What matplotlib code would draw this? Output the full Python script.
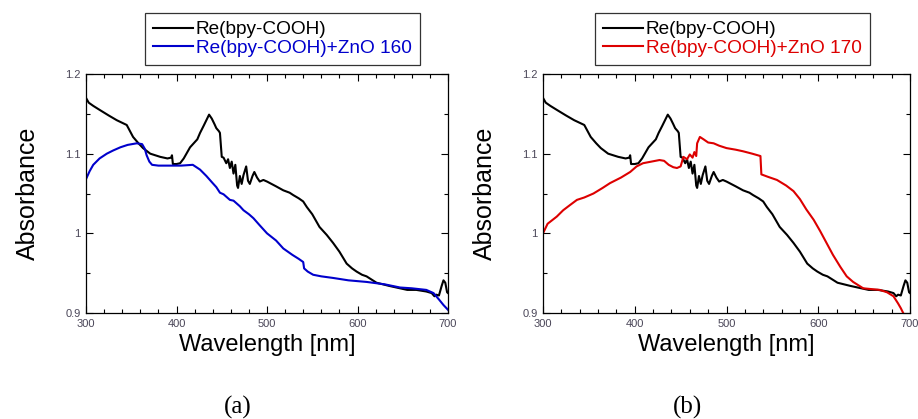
import matplotlib
matplotlib.use('Agg')
import matplotlib.pyplot as plt
from matplotlib.ticker import MultipleLocator, FixedLocator, FixedFormatter

plt.rcParams['font.family'] = ['Liberation Sans', 'DejaVu Sans']

# Re(bpy-COOH) reference spectrum (same in both panels)
wl_re = [300, 303, 308, 315, 325, 334, 345, 352, 358, 363, 371, 382, 390, 394, 395, 396, 400, 404,
         408, 411, 415, 419, 423, 426, 430, 433, 436, 439, 442, 444, 447, 448, 450, 452, 455, 457,
         459, 461, 463, 465, 467, 468, 470, 472, 474, 477, 479, 481, 484, 486, 489, 492, 496, 500,
         510, 518, 525, 529, 535, 540, 544, 550, 558, 566, 573, 580, 588, 594, 599, 605, 610, 621,
         635, 647, 655, 665, 676, 682, 685, 687, 690, 693, 695, 697, 699, 700]
abs_re = [1.170, 1.164, 1.160, 1.155, 1.148, 1.142, 1.136, 1.121, 1.113, 1.107, 1.100, 1.096, 1.094,
          1.095, 1.098, 1.087, 1.087, 1.088, 1.094, 1.100, 1.108, 1.113, 1.118, 1.126, 1.135, 1.142,
          1.149, 1.144, 1.137, 1.132, 1.128, 1.126, 1.096, 1.095, 1.088, 1.093, 1.082, 1.090, 1.075,
          1.086, 1.060, 1.057, 1.072, 1.062, 1.073, 1.084, 1.066, 1.062, 1.072, 1.077, 1.070, 1.065,
          1.067, 1.065, 1.059, 1.054, 1.051, 1.048, 1.044, 1.040, 1.033, 1.024, 1.008, 0.998, 0.988,
          0.977, 0.962, 0.956, 0.952, 0.948, 0.946, 0.938, 0.934, 0.931, 0.929, 0.929, 0.927, 0.925,
          0.921, 0.923, 0.922, 0.934, 0.941, 0.938, 0.926, 0.925]

# Re(bpy-COOH)+ZnO 160
wl_160 = [300, 304, 308, 315, 323, 330, 338, 346, 356, 362, 365, 367, 370, 373, 380, 392, 405, 418,
          422, 426, 433, 440, 444, 448, 452, 456, 459, 463, 466, 470, 474, 480, 485, 492, 500, 510,
          518, 528, 535, 540, 541, 545, 551, 560, 573, 590, 610, 630, 647, 660, 676, 684, 690, 695, 700]
abs_160 = [1.068, 1.078, 1.086, 1.094, 1.100, 1.104, 1.108, 1.111, 1.113, 1.112, 1.106, 1.098, 1.090,
           1.086, 1.085, 1.085, 1.085, 1.086, 1.083, 1.080, 1.072, 1.063, 1.058, 1.051, 1.049, 1.045,
           1.042, 1.041, 1.038, 1.034, 1.029, 1.024, 1.019, 1.010, 1.000, 0.991, 0.981, 0.973, 0.968,
           0.964, 0.956, 0.952, 0.948, 0.946, 0.944, 0.941, 0.939, 0.936, 0.932, 0.931, 0.929, 0.925,
           0.917, 0.910, 0.904]

# Re(bpy-COOH)+ZnO 170
wl_170 = [300, 305, 315, 322, 330, 337, 345, 355, 365, 373, 385, 395, 402, 409, 418, 427, 432, 437,
          442, 446, 450, 453, 457, 460, 463, 465, 467, 468, 471, 475, 480, 486, 492, 500, 510, 518,
          528, 537, 538, 545, 555, 565, 573, 580, 587, 595, 602, 609, 616, 624, 631, 638, 649, 658,
          667, 675, 682, 687, 690, 693]
abs_170 = [1.000, 1.012, 1.021, 1.029, 1.036, 1.042, 1.045, 1.050, 1.057, 1.063, 1.070, 1.077, 1.084,
           1.088, 1.090, 1.092, 1.091, 1.086, 1.083, 1.082, 1.084, 1.096, 1.093, 1.099, 1.095, 1.102,
           1.097, 1.113, 1.121, 1.118, 1.114, 1.113, 1.110, 1.107, 1.105, 1.103, 1.100, 1.097, 1.074,
           1.071, 1.067, 1.060, 1.053, 1.043, 1.030, 1.017, 1.003, 0.988, 0.973, 0.958, 0.946, 0.939,
           0.931, 0.930, 0.929, 0.926, 0.921, 0.912, 0.906, 0.899]

yticks = [0.9, 1.0, 1.1, 1.2]
ytick_labels = ['0.9', '1', '1.1', '1.2']
xticks = [300, 400, 500, 600, 700]

fig = plt.figure(figsize=(9.18, 4.19), dpi=100)
W, H = 918, 419

panels = [
    (86, 448, wl_160, abs_160, '#0000cc', 'Re(bpy-COOH)+ZnO 160', 145, '(a)', 238),
    (543, 910, wl_170, abs_170, '#dd0000', 'Re(bpy-COOH)+ZnO 170', 595, '(b)', 688),
]

for left, right, wl, ab, col, lab, legx, cap, capx in panels:
    ax = fig.add_axes([left / W, 1 - 313 / H, (right - left) / W, (313 - 74) / H])
    ax.plot(wl_re, abs_re, color='black', lw=1.5, label='Re(bpy-COOH)')
    ax.plot(wl, ab, color=col, lw=1.5, label=lab)
    ax.set_xlim(300, 700)
    ax.set_ylim(0.9, 1.2)
    ax.xaxis.set_major_locator(FixedLocator(xticks))
    ax.xaxis.set_minor_locator(MultipleLocator(20))
    ax.yaxis.set_major_locator(FixedLocator(yticks))
    ax.yaxis.set_major_formatter(FixedFormatter(ytick_labels))
    ax.yaxis.set_minor_locator(MultipleLocator(0.05))
    ax.tick_params(which='both', direction='in', top=True, right=True,
                   labelsize=8, labelcolor='#4a4658', pad=4, width=0.8)
    ax.tick_params(which='major', length=5)
    ax.tick_params(which='minor', length=3)
    for s in ax.spines.values():
        s.set_linewidth(0.9)
    ax.set_xlabel('Wavelength [nm]', fontsize=17, labelpad=4)
    ax.set_ylabel('Absorbance', fontsize=18, labelpad=18)
    leg = fig.legend(handles=ax.get_lines(), loc='upper left',
                     bbox_to_anchor=(legx / W, 1 - 13 / H), borderaxespad=0,
                     frameon=True, fancybox=False,
                     edgecolor='black', fontsize=13.7, labelcolor='linecolor',
                     handlelength=2.1, handletextpad=0.15, borderpad=0.42, labelspacing=0.08)
    leg.get_frame().set_linewidth(0.9)
    fig.text(capx / W, 1 - 407 / H, cap, ha='center', va='center',
             fontsize=18, family='Liberation Serif')

fig.savefig('out.png', dpi=100)
